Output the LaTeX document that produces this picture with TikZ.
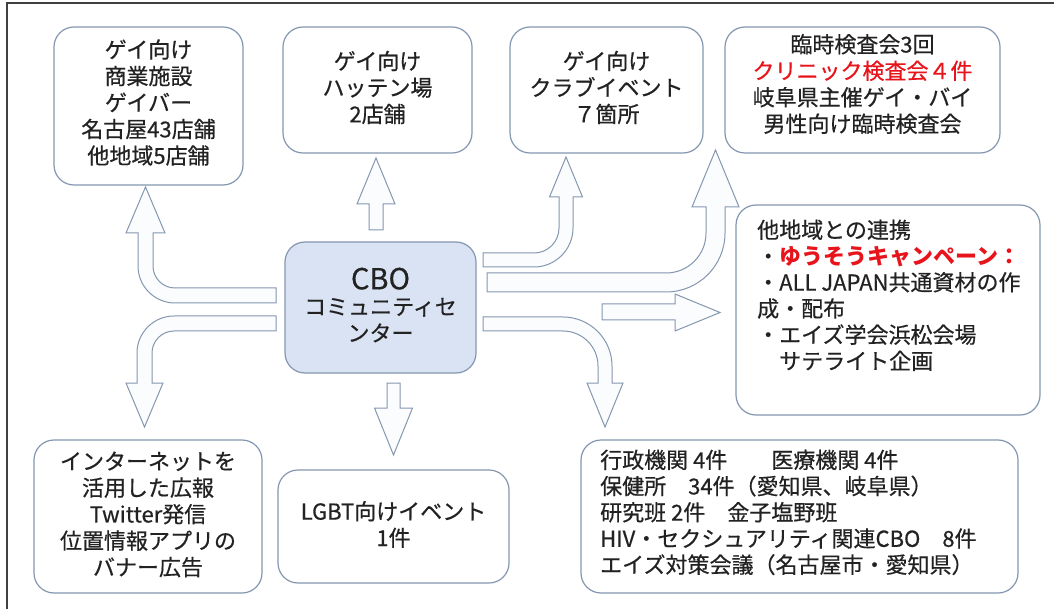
\documentclass[tikz,border=0pt]{standalone}
\usepackage{fontspec}
\newfontfamily\jp[UprightFeatures={FakeBold=0.5}]{Noto Sans CJK JP}
\definecolor{bord}{HTML}{8497B0}
\definecolor{cbofill}{HTML}{DAE3F3}
\definecolor{arrfill}{HTML}{FBFCFE}
\definecolor{txt}{HTML}{222222}
\definecolor{redt}{HTML}{E8141C}
\definecolor{frame}{HTML}{404040}
\begin{document}
\begin{tikzpicture}[x=1pt,y=-1pt,
  boxn/.style={draw=bord, line width=1.2pt, rounded corners=20pt, fill=white, inner sep=0pt},
  tx/.style={font={\jp\fontsize{22}{26.5}\selectfont}, text=txt, align=center, inner sep=0pt},
  txl/.style={font={\jp\fontsize{22}{26.2}\selectfont}, text=txt, align=left, inner sep=0pt, anchor=north west},
  barrow/.style={draw=bord, fill=arrfill, line width=1pt, line join=miter}]
\useasboundingbox (0,0) rectangle (1054,609);
\fill[white] (0,0) rectangle (1054,609);
% frame (top and left edges)
\draw[frame, line width=1.5pt] (7,609) -- (7,3) -- (1054,3);

% ---------- block arrows ----------
% up to box 1 (left, curving up)
\draw[barrow] (276,303) -- (175,303) .. controls (154.6,303) and (138,286.4) .. (138,266)
  -- (138,233) -- (126,233) -- (145.5,187) -- (165,233) -- (153,233) -- (153,266)
  .. controls (153,278.1) and (162.9,288) .. (175,288) -- (276,288) -- cycle;
% down to box 8 (left, curving down)
\draw[barrow] (276,316) -- (174,316) .. controls (153.6,316) and (137,332.6) .. (137,353)
  -- (137,383) -- (126,383) -- (144.5,427) -- (163,383) -- (152,383) -- (152,353)
  .. controls (152,340.9) and (161.9,331) .. (174,331) -- (276,331) -- cycle;
% straight up to box 2
\draw[barrow] (369,230) -- (369,204) -- (357,204) -- (376,158) -- (395,204) -- (383,204) -- (383,230) -- cycle;
% straight down to box 7
\draw[barrow] (387,383) -- (387,408) -- (374.5,408) -- (393.5,455) -- (412.5,408) -- (400,408) -- (400,383) -- cycle;
% right, curving up to box 3
\draw[barrow] (483,253) -- (534,253) .. controls (547.8,253) and (559,241.8) .. (559,228)
  -- (559,197) -- (549.5,197) -- (566,157) -- (582.5,197) -- (573,197) -- (573,228)
  .. controls (573,249.5) and (555.5,267) .. (534,267) -- (483,267) -- cycle;
% right, curving up to box 4
\draw[barrow] (487,273) -- (666,273) .. controls (688.1,273) and (706,255.1) .. (706,233)
  -- (706,207) -- (692,207) -- (715.5,150) -- (739,207) -- (725,207) -- (725,233)
  .. controls (725,265.6) and (698.6,292) .. (666,292) -- (487,292) -- cycle;
% straight right to box 5
\draw[barrow] (602,304) -- (675,304) -- (675,294) -- (720,312.5) -- (675,331) -- (675,320) -- (602,320) -- cycle;
% right, curving down to box 6
\draw[barrow] (483,317) -- (563,317) .. controls (590,317) and (612,339) .. (612,366)
  -- (612,383) -- (623,383) -- (605,427) -- (587,383) -- (598,383) -- (598,366)
  .. controls (598,346.7) and (582.3,331) .. (563,331) -- (483,331) -- cycle;

% ---------- boxes ----------
\node[boxn, minimum width=189pt, minimum height=158pt] (b1) at (148.5,106) {};
\node[boxn, minimum width=189pt, minimum height=126pt] (b2) at (377.5,90) {};
\node[boxn, minimum width=193pt, minimum height=126pt] (b3) at (606.5,90) {};
\node[boxn, minimum width=275pt, minimum height=126pt] (b4) at (862.5,90) {};
\node[boxn, minimum width=304pt, minimum height=210pt] (b5) at (888,310) {};
\node[boxn, minimum width=437pt, minimum height=153pt] (b6) at (799.5,516.5) {};
\node[boxn, minimum width=231pt, minimum height=113pt] (b7) at (393.5,526.5) {};
\node[boxn, minimum width=228pt, minimum height=153pt] (b8) at (148,516.5) {};
\node[boxn, fill=cbofill, minimum width=191pt, minimum height=131pt] (cbo) at (380.5,307.5) {};

% ---------- texts ----------
\node[tx] (t1) at (148.5,102.5) {ゲイ向け\\商業施設\\ゲイバー\\名古屋43店舗\\他地域5店舗};
\node[tx] (t2) at (377.5,87.5) {ゲイ向け\\ハッテン場\\2店舗};
\node[tx] (t3) at (606.5,87.5) {ゲイ向け\\クラブイベント\\７箇所};
\node[tx] (t4) at (862.5,84) {臨時検査会3回\\\textcolor{redt}{クリニック検査会４件}\\岐阜県主催ゲイ・バイ\\男性向け臨時検査会};
\node[tx] (tc) at (380.5,305) {{\fontsize{29}{30}\selectfont CBO}\\[-1pt]コミュニティセ\\ンター};
\node[tx] (t7) at (393.5,524.5) {LGBT向けイベント\\1件};
\node[tx] (t8) at (148,514.5) {インターネットを\\活用した広報\\Twitter発信\\位置情報アプリの\\バナー広告};
\node[txl] (t5) at (757,219.5) {他地域との連携\\・\textcolor{redt}{\bfseries ゆうそうキャンペーン：}\\・ALL JAPAN共通資材の作\\成・配布\\・エイズ学会浜松会場\\　サテライト企画};
\node[txl] (t6) at (600,449.5) {行政機関 4件　　医療機関 4件\\保健所　34件（愛知県、岐阜県）\\研究班 2件　金子塩野班\\HIV・セクシュアリティ関連CBO　8件\\エイズ対策会議（名古屋市・愛知県）};
\end{tikzpicture}
\end{document}
